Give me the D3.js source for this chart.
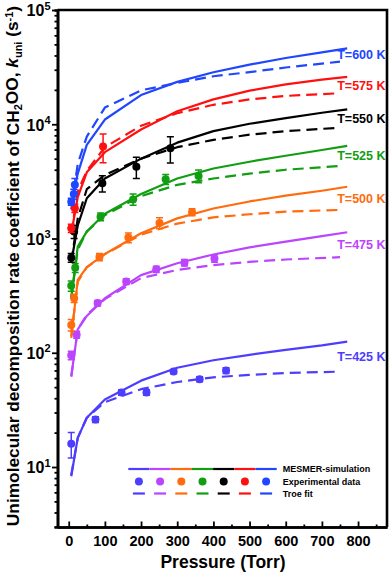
<!DOCTYPE html>
<html>
<head>
<meta charset="utf-8">
<script src="https://cdn.jsdelivr.net/npm/d3@7"></script>
<style>
  body { margin: 0; background: #fff; }
  svg { display: block; font-family: "Liberation Sans", Arial, sans-serif; font-weight: bold; }
</style>
</head>
<body>
<div id="chart"></div>
<script>
// temperatures (K) and their colours
var temps = [425, 475, 500, 525, 550, 575, 600];
var colors = ["#4d3dff", "#bb44ff", "#ff6b0d", "#119e11", "#000000", "#ff1010", "#2046ff"];

// MESMER simulation (solid lines), pressure in Torr, k in s-1
var mesmerP   = [7, 25, 50, 100, 200, 300, 400, 500, 600, 700, 770];
var mesmer425 = [8.3, 18, 27, 39, 57, 74, 86, 96, 106, 116, 125];
var mesmer475 = [62, 160, 210, 300, 478, 608, 725, 837, 938, 1050, 1135];
var mesmer500 = [135, 434, 561, 733, 1112, 1500, 1830, 2110, 2370, 2620, 2840];
var mesmer525 = [300, 850, 1150, 1650, 2450, 3350, 4100, 4700, 5300, 5950, 6460];
var mesmer550 = [620, 1300, 2250, 3350, 5000, 6900, 8700, 10100, 11300, 12600, 13500];
var mesmer575 = [1100, 2300, 3800, 5700, 9000, 13000, 16500, 19700, 22300, 24600, 26000];
var mesmer600 = [2000, 3700, 6600, 11000, 18000, 23500, 28500, 33300, 38000, 42500, 46200];

// Troe fit (dashed lines)
var troeP   = [7, 25, 50, 100, 200, 300, 400, 500, 600, 750];
var troe425 = [8.5, 18, 27, 37, 48, 55.5, 61, 64, 66.5, 68.4];
var troe475 = [62, 160, 215, 295, 450, 530, 585, 625, 655, 686];
var troe500 = [140, 420, 560, 730, 1080, 1350, 1530, 1630, 1720, 1780];
var troe525 = [300, 800, 1150, 1600, 2350, 2950, 3350, 3700, 4000, 4315];
var troe550 = [620, 1500, 2700, 3600, 5000, 6300, 7300, 8100, 8700, 9330];
var troe575 = [1100, 2600, 3900, 6300, 9700, 12500, 14800, 16500, 17700, 18700];
var troe600 = [1800, 4500, 7800, 14000, 19800, 23000, 26300, 28600, 31400, 35300];

// experimental data: pressure, k, error
var exp425P = [7, 74, 146, 215, 290, 362, 435];
var exp425K = [16, 26, 45, 45, 68.5, 58.7, 69.8];
var exp425E = [4, 1.5, 2.5, 2.5, 3, 3, 4];
var exp475P = [7, 22, 80, 159, 242, 320, 403];
var exp475K = [95, 144, 272, 420, 538, 615, 670];
var exp475E = [8, 10, 15, 25, 35, 40, 50];
var exp500P = [7, 15, 85, 165, 251, 341];
var exp500K = [175, 300, 690, 1020, 1370, 1700];
var exp500E = [20, 25, 50, 100, 150, 120];
var exp525P = [7, 18, 88, 178, 268, 359];
var exp525K = [385, 555, 1550, 2200, 3300, 3530];
var exp525E = [40, 50, 120, 250, 330, 450];
var exp550P = [7, 15, 93, 187, 281];
var exp550K = [680, 1150, 3050, 4250, 6170];
var exp550E = [60, 150, 500, 900, 1600];
var exp575P = [7, 17, 95];
var exp575K = [1230, 1840, 6400];
var exp575E = [100, 150, 1800];
var exp600P = [7, 14, 17];
var exp600K = [2100, 2450, 2950];
var exp600E = [150, 250, 400];

var legendLabels = ["MESMER-simulation", "Experimental data", "Troe fit"];

var mesmerK = [mesmer425, mesmer475, mesmer500, mesmer525, mesmer550, mesmer575, mesmer600];
var troeK = [troe425, troe475, troe500, troe525, troe550, troe575, troe600];
var expP = [exp425P, exp475P, exp500P, exp525P, exp550P, exp575P, exp600P];
var expK = [exp425K, exp475K, exp500K, exp525K, exp550K, exp575K, exp600K];
var expE = [exp425E, exp475E, exp500E, exp525E, exp550E, exp575E, exp600E];

var series = temps.map(function(t, i) {
	return {
		temp: t,
		color: colors[i],
		mesmer: mesmerP.map(function(p, j) { return { p: p, k: mesmerK[i][j] }; }),
		troe: troeP.map(function(p, j) { return { p: p, k: troeK[i][j] }; }),
		exp: expP[i].map(function(p, j) { return { p: p, k: expK[i][j], e: expE[i][j] }; })
	};
});

// chart dimensions
var width = 392, height = 581;
var plot = { left: 57.5, right: 387, top: 10, bottom: 527 };

var x = d3.scaleLinear().domain([-31, 880]).range([plot.left, plot.right]);
var y = d3.scaleLog().domain([Math.pow(10, 0.475), 1e5]).range([plot.bottom, plot.top]);

var svg = d3.select("#chart")
  .append("svg")
	.attr("width", width)
	.attr("height", height);

var line = d3.line()
	.x(function(d) { return x(d.p); })
	.y(function(d) { return y(d.k); });

// Troe fit (dashed)
svg.selectAll(".troe")
	.data(series)
  .enter().append("path")
	.attr("class", "troe")
	.attr("d", function(d) { return line(d.troe); })
	.attr("fill", "none")
	.attr("stroke", function(d) { return d.color; })
	.attr("stroke-width", 2.2)
	.attr("stroke-linejoin", "round")
	.attr("stroke-dasharray", "11,6");

// MESMER simulation (solid)
svg.selectAll(".mesmer")
	.data(series)
  .enter().append("path")
	.attr("class", "mesmer")
	.attr("d", function(d) { return line(d.mesmer); })
	.attr("fill", "none")
	.attr("stroke", function(d) { return d.color; })
	.attr("stroke-linejoin", "round")
	.attr("stroke-width", 2.2);

// experimental points with error bars
var groups = svg.selectAll(".exp")
	.data(series)
  .enter().append("g")
	.attr("class", "exp")
	.attr("stroke", function(d) { return d.color; })
	.attr("fill", function(d) { return d.color; });

var pts = groups.selectAll(".pt")
	.data(function(d) { return d.exp; })
  .enter().append("g")
	.attr("class", "pt");

pts.append("path")
	.attr("fill", "none")
	.attr("stroke-width", 1.5)
	.attr("d", function(d) {
		var cx = x(d.p), y0 = y(d.k - d.e), y1 = y(d.k + d.e);
		return "M" + (cx - 3.5) + "," + y0 + "H" + (cx + 3.5) +
			"M" + cx + "," + y0 + "V" + y1 +
			"M" + (cx - 3.5) + "," + y1 + "H" + (cx + 3.5);
	});

pts.append("circle")
	.attr("cx", function(d) { return x(d.p); })
	.attr("cy", function(d) { return y(d.k); })
	.attr("r", 4)
	.attr("stroke", "none");

// temperature labels, between the ends of the two lines
svg.selectAll(".tlabel")
	.data(series)
  .enter().append("text")
	.attr("class", "tlabel")
	.attr("x", 385.5)
	.attr("y", function(d) {
		var a = d.mesmer[d.mesmer.length - 1], b = d.troe[d.troe.length - 1];
		return (y(a.k) + y(b.k)) / 2;
	})
	.attr("dy", "0.36em")
	.attr("text-anchor", "end")
	.attr("font-size", "12.5px")
	.attr("fill", function(d) { return d.color; })
	.text(function(d) { return "T=" + d.temp + " K"; });

// axes
var majorY = [10, 100, 1000, 10000, 100000];
var minorY = [];
for (var e = 0; e < 5; e++) {
	for (var m = 2; m < 10; m++) {
		var v = m * Math.pow(10, e);
		if (v >= y.domain()[0] && v < 1e5) minorY.push(v);
	}
}

var yMinor = svg.append("g")
	.attr("transform", "translate(" + plot.left + ",0)")
	.call(d3.axisLeft(y).tickValues(minorY).tickSize(3).tickFormat(""));

var yMajor = svg.append("g")
	.attr("transform", "translate(" + plot.left + ",0)")
	.call(d3.axisLeft(y).tickValues(majorY).tickSize(5.5).tickSizeOuter(0).tickFormat(""));

var xMinor = svg.append("g")
	.attr("transform", "translate(0," + plot.bottom + ")")
	.call(d3.axisBottom(x).tickValues(d3.range(50, 880, 100)).tickSizeInner(-2.5).tickSizeOuter(0).tickFormat(""));

var xMajor = svg.append("g")
	.attr("transform", "translate(0," + plot.bottom + ")")
	.call(d3.axisBottom(x).tickValues(d3.range(0, 801, 100)).tickSizeInner(-5.5).tickSizeOuter(0).tickPadding(9));

svg.selectAll(".tick line").attr("stroke", "#000").attr("stroke-width", 1.8);
svg.selectAll(".domain").attr("stroke", "#000").attr("stroke-width", 2.6);
xMajor.selectAll("text")
	.attr("font-family", "Liberation Sans, Arial, sans-serif")
	.attr("font-weight", "bold")
	.attr("font-size", "14.5px")
	.attr("fill", "#000");

// y tick labels as 10 with superscript exponent
yMajor.selectAll(".tick").each(function(d) {
	var t = d3.select(this).append("text")
		.attr("x", -7)
		.attr("dy", "0.36em")
		.attr("text-anchor", "end")
		.attr("font-size", "16px")
		.attr("fill", "#000");
	t.append("tspan").text("10");
	t.append("tspan")
		.attr("font-size", "11px")
		.attr("dy", "-0.6em")
		.text(Math.round(Math.log10(d)));
});

// frame: top and right
svg.append("path")
	.attr("d", "M" + plot.left + "," + plot.top + "H" + plot.right + "V" + plot.bottom)
	.attr("fill", "none")
	.attr("stroke", "#000")
	.attr("stroke-width", 2.6);

// axis titles
svg.append("text")
	.attr("x", 223)
	.attr("y", 568)
	.attr("text-anchor", "middle")
	.attr("font-size", "17.5px")
	.text("Pressure (Torr)");

var yt = svg.append("text")
	.attr("transform", "translate(18.5,266) rotate(-90)")
	.attr("text-anchor", "middle")
	.attr("font-size", "17.3px");
yt.append("tspan").text("Unimolecular decomposition rate coefficient of CH");
yt.append("tspan").attr("font-size", "11px").attr("dy", "0.3em").text("2");
yt.append("tspan").attr("dy", "-0.2em").text("OO, ");
yt.append("tspan").attr("font-style", "italic").text("k");
yt.append("tspan").attr("font-size", "11px").attr("dy", "0.3em").text("uni");
yt.append("tspan").attr("dy", "-0.2em").text(" (s");
yt.append("tspan").attr("font-size", "11px").attr("dy", "-0.5em").text("-1");
yt.append("tspan").attr("dy", "0.35em").text(")");

// legend
var segW = 21.2, legX = 128.3;
var legRows = [469, 481.5, 493.5];

var leg = svg.append("g").attr("class", "legend");

leg.selectAll(".lsolid")
	.data(series)
  .enter().append("line")
	.attr("x1", function(d, i) { return legX + i * segW; })
	.attr("x2", function(d, i) { return legX + (i + 1) * segW; })
	.attr("y1", legRows[0])
	.attr("y2", legRows[0])
	.attr("stroke", function(d) { return d.color; })
	.attr("stroke-width", 2.2);

leg.selectAll(".ldot")
	.data(series)
  .enter().append("circle")
	.attr("cx", function(d, i) { return legX + (i + 0.5) * segW; })
	.attr("cy", legRows[1])
	.attr("r", 4)
	.attr("fill", function(d) { return d.color; });

leg.selectAll(".ldash")
	.data(series)
  .enter().append("line")
	.attr("x1", function(d, i) { return legX + (i + 0.5) * segW - 6; })
	.attr("x2", function(d, i) { return legX + (i + 0.5) * segW + 6; })
	.attr("y1", legRows[2])
	.attr("y2", legRows[2])
	.attr("stroke", function(d) { return d.color; })
	.attr("stroke-width", 2.2);

leg.selectAll(".ltext")
	.data(legendLabels)
  .enter().append("text")
	.attr("x", legX + 7 * segW + 6)
	.attr("y", function(d, i) { return legRows[i]; })
	.attr("dy", "0.35em")
	.attr("font-size", "9px")
	.text(function(d) { return d; });
</script>
</body>
</html>
